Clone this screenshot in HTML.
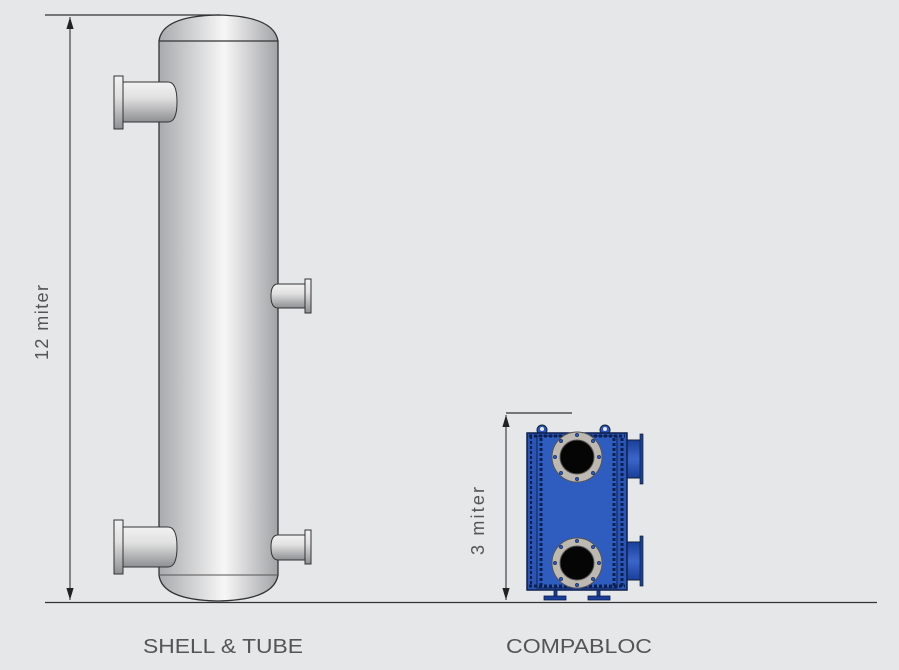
<!DOCTYPE html>
<html><head><meta charset="utf-8"><style>
html,body{margin:0;padding:0;background:#e6e7e9;}
svg{display:block;font-family:"Liberation Sans",sans-serif;}
</style></head><body>
<svg width="899" height="670" viewBox="0 0 899 670" xmlns="http://www.w3.org/2000/svg">
<defs>
<linearGradient id="g" x1="0" x2="1" y1="0" y2="0">
<stop offset="0" stop-color="#a9aaad"/><stop offset="0.55" stop-color="#f7f7f7"/><stop offset="1" stop-color="#a2a3a6"/>
</linearGradient>
<linearGradient id="gv" x1="0" x2="0" y1="0" y2="1">
<stop offset="0" stop-color="#f2f2f2"/><stop offset="0.4" stop-color="#e0e0e0"/><stop offset="1" stop-color="#8e8f92"/>
</linearGradient>
<linearGradient id="bp" x1="0" x2="0" y1="0" y2="1">
<stop offset="0" stop-color="#1a3f9a"/><stop offset="0.5" stop-color="#3b66c9"/><stop offset="1" stop-color="#1a3f9a"/>
</linearGradient>
<marker id="ar" viewBox="0 0 10 10" refX="10" refY="5" markerWidth="12" markerHeight="12" orient="auto-start-reverse"><path d="M0,2 L10,5 L0,8z" fill="#222"/></marker>
</defs>
<rect width="899" height="670" fill="#e6e7e9"/>
<line x1="45" y1="602.5" x2="877" y2="602.5" stroke="#333" stroke-width="1.2"/>
<line x1="45" y1="15" x2="220" y2="15" stroke="#333" stroke-width="1.2"/>
<line x1="70" y1="17" x2="70" y2="600" stroke="#222" stroke-width="1" marker-start="url(#ar)" marker-end="url(#ar)"/>
<text transform="translate(48,360) rotate(-90)" font-size="18" fill="#555" textLength="75" lengthAdjust="spacing">12  miter</text>
<!-- vessel body -->
<path d="M159,41 Q162,16 218,15 Q274,16 278,41 L278,575 Q274,600 218,601 Q162,600 159,575 Z" fill="url(#g)" stroke="#333" stroke-width="1.3"/>
<line x1="159" y1="41" x2="278" y2="41" stroke="#333" stroke-width="1.3"/>
<line x1="159" y1="575" x2="278" y2="575" stroke="#555" stroke-width="1"/>
<!-- left nozzles on top of body -->
<path d="M120,82 L168,82 Q177,82 177,102 Q177,122 168,122 L120,122 Z" fill="url(#gv)" stroke="#333"/>
<rect x="114" y="76" width="9" height="53" fill="url(#gv)" stroke="#333"/>
<path d="M120,527 L168,527 Q177,527 177,547 Q177,567 168,567 L120,567 Z" fill="url(#gv)" stroke="#333"/>
<rect x="114" y="520" width="9" height="54" fill="url(#gv)" stroke="#333"/>
<!-- right nozzles -->
<path d="M278,284 Q271,284 271,296 Q271,308 278,308 L306,308 L306,284 Z" fill="url(#gv)" stroke="#333"/>
<rect x="305" y="279" width="6" height="34" fill="url(#gv)" stroke="#333"/>
<path d="M278,535 Q271,535 271,547 Q271,560 278,560 L306,560 L306,535 Z" fill="url(#gv)" stroke="#333"/>
<rect x="305" y="530" width="6" height="34" fill="url(#gv)" stroke="#333"/>
<!-- compabloc dimension -->
<line x1="506" y1="413" x2="572" y2="413" stroke="#333" stroke-width="1.2"/>
<line x1="506" y1="415" x2="506" y2="600" stroke="#222" stroke-width="1" marker-start="url(#ar)" marker-end="url(#ar)"/>
<text transform="translate(484,555) rotate(-90)" font-size="18" fill="#555" textLength="68" lengthAdjust="spacing">3  miter</text>
<!-- compabloc -->
<rect x="625" y="440" width="16" height="38" fill="url(#bp)" stroke="#123"/>
<rect x="640" y="434" width="3" height="50" fill="#1a3f9a" stroke="#123" stroke-width=".7"/>
<rect x="625" y="542" width="16" height="38" fill="url(#bp)" stroke="#123"/>
<rect x="640" y="536" width="3" height="50" fill="#1a3f9a" stroke="#123" stroke-width=".7"/>
<circle cx="542" cy="430" r="5" fill="#2b55b8" stroke="#123"/><circle cx="542" cy="429" r="2" fill="#e6e7e9"/>
<circle cx="605" cy="430" r="5" fill="#2b55b8" stroke="#123"/><circle cx="605" cy="429" r="2" fill="#e6e7e9"/>
<rect x="527" y="433" width="100" height="157" fill="#2a55b5" stroke="#0d1f4d" stroke-width="1.5"/>
<rect x="537" y="436" width="80" height="152" fill="#2f5dbf" stroke="#0d1f4d" stroke-width="1"/>
<line x1="531" y1="436" x2="531" y2="587" stroke="#0d1f4d" stroke-width="2" stroke-dasharray="3,2"/>
<line x1="541" y1="438" x2="541" y2="586" stroke="#0d1f4d" stroke-width="3" stroke-dasharray="3,2"/>
<line x1="614" y1="438" x2="614" y2="586" stroke="#0d1f4d" stroke-width="3" stroke-dasharray="3,2"/>
<line x1="622" y1="438" x2="622" y2="586" stroke="#0d1f4d" stroke-width="3" stroke-dasharray="3,2"/>
<line x1="529" y1="436" x2="625" y2="436" stroke="#0d1f4d" stroke-width="3" stroke-dasharray="3,2"/>
<line x1="529" y1="586" x2="625" y2="586" stroke="#0d1f4d" stroke-width="3" stroke-dasharray="3,2"/>
<g stroke="#555" stroke-width="1">
<circle cx="577" cy="457" r="25" fill="#bdb8b0"/><circle cx="577" cy="457" r="17" fill="#050505"/>
<circle cx="577" cy="563" r="25" fill="#bdb8b0"/><circle cx="577" cy="563" r="17" fill="#050505"/>
</g>
<g fill="#2b55b8" stroke="#123" stroke-width=".5">
<circle cx="577" cy="435" r="1.8"/><circle cx="577" cy="479" r="1.8"/><circle cx="555" cy="457" r="1.8"/><circle cx="599" cy="457" r="1.8"/>
<circle cx="561" cy="441" r="1.8"/><circle cx="593" cy="441" r="1.8"/><circle cx="561" cy="473" r="1.8"/><circle cx="593" cy="473" r="1.8"/>
<circle cx="577" cy="541" r="1.8"/><circle cx="577" cy="585" r="1.8"/><circle cx="555" cy="563" r="1.8"/><circle cx="599" cy="563" r="1.8"/>
<circle cx="561" cy="547" r="1.8"/><circle cx="593" cy="547" r="1.8"/><circle cx="561" cy="579" r="1.8"/><circle cx="593" cy="579" r="1.8"/>
</g>
<g fill="#1a3f9a" stroke="#0d1f4d" stroke-width=".8">
<rect x="554" y="590" width="3" height="7"/><rect x="597" y="590" width="3" height="7"/>
<rect x="544" y="596" width="22" height="4"/><rect x="588" y="596" width="22" height="4"/>
</g>
<text x="143" y="653" font-size="20" fill="#555" textLength="160" lengthAdjust="spacingAndGlyphs">SHELL &amp; TUBE</text>
<text x="506" y="653" font-size="20" fill="#555" textLength="146" lengthAdjust="spacingAndGlyphs">COMPABLOC</text>
</svg>
</body></html>
